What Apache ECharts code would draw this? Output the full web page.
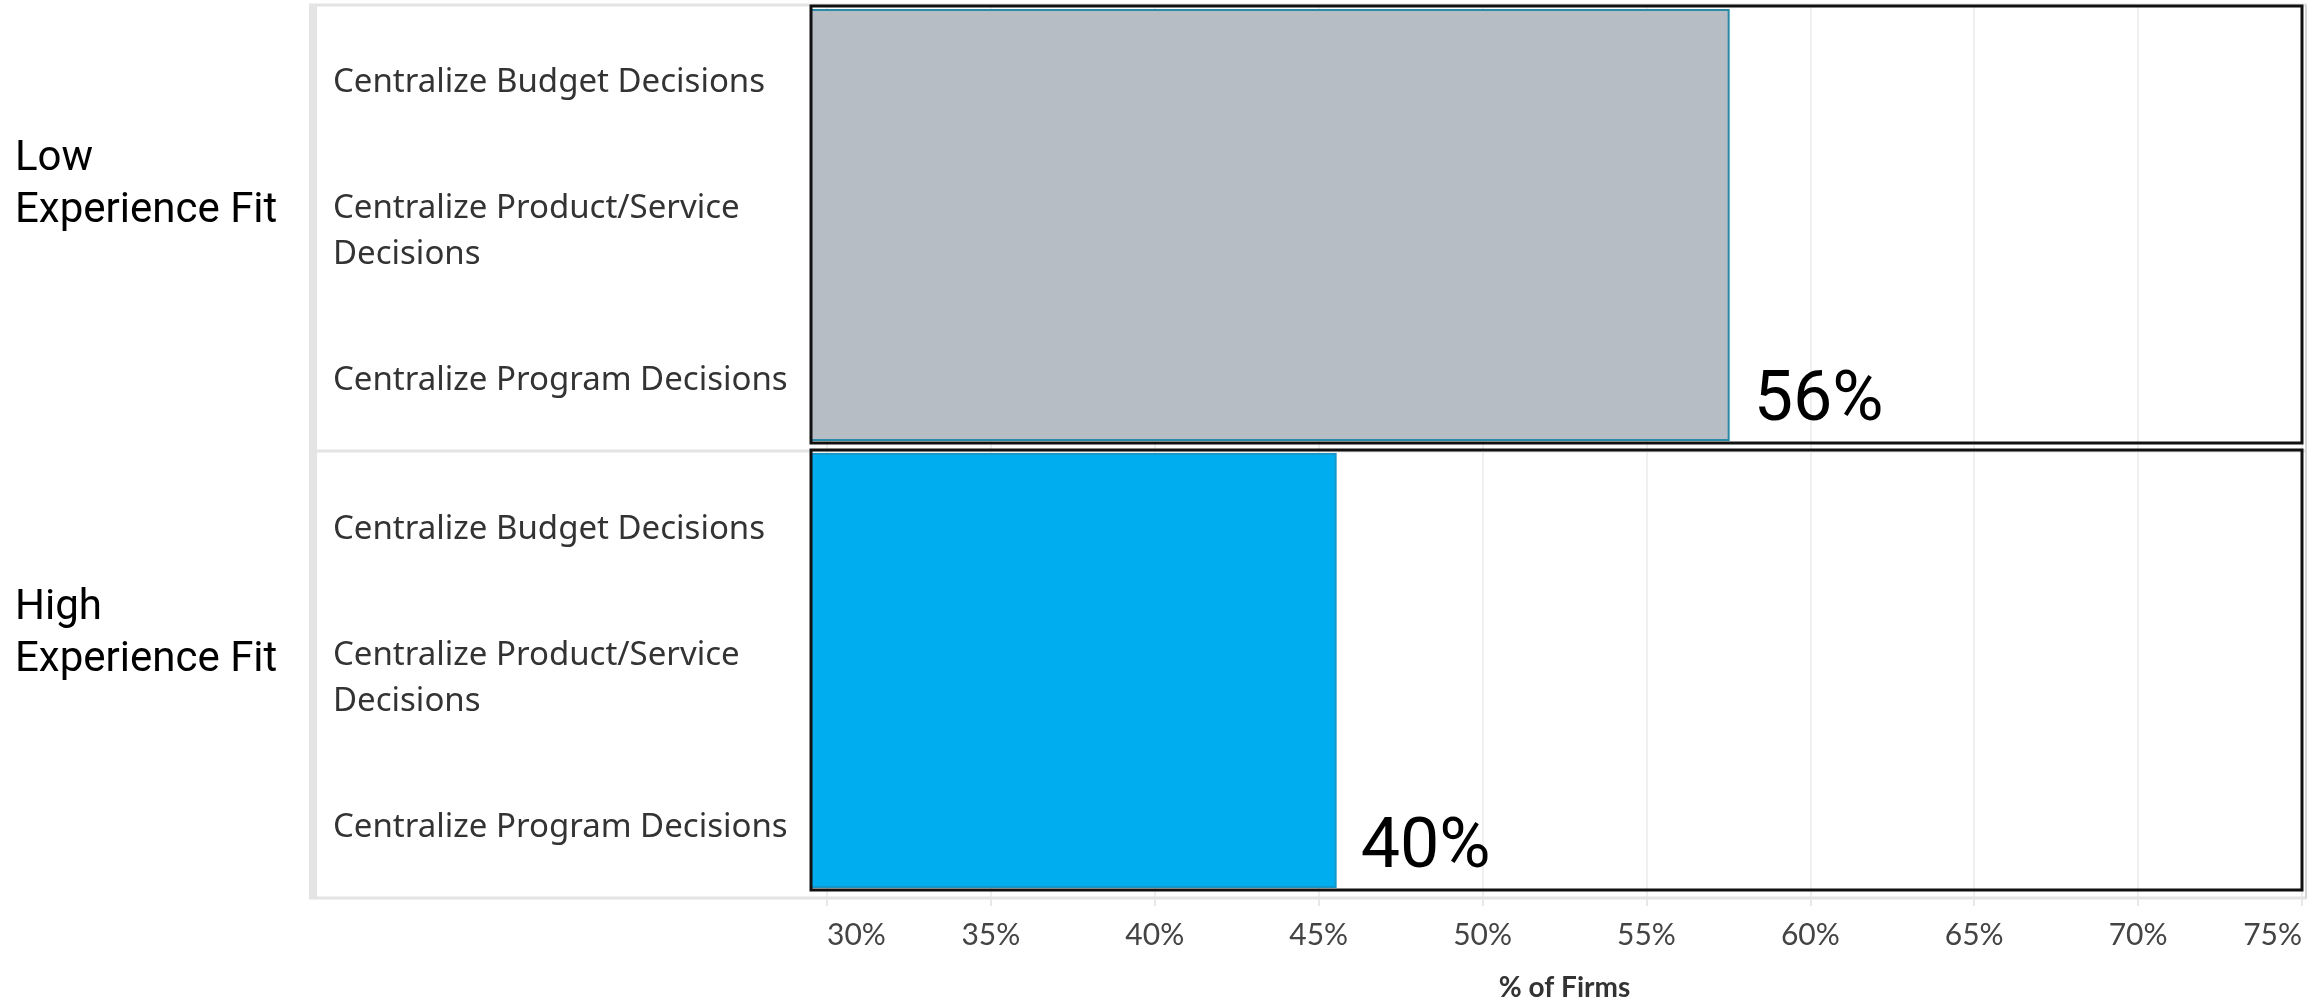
<!DOCTYPE html>
<html>
<head>
<meta charset="utf-8">
<script src="https://cdn.jsdelivr.net/npm/echarts@6/dist/echarts.min.js"></script>
<style>
  html, body { margin: 0; padding: 0; background: #ffffff; }
  #chart { width: 2323px; height: 1003px; }
</style>
</head>
<body>
<div id="chart"></div>
<script>
// Panels (experience fit groups), the decision rows inside each panel, and the share of firms
const panels = ['Low\nExperience Fit', 'High\nExperience Fit'];
const decisionTypes = [
  'Centralize Budget Decisions',
  'Centralize Product/Service\nDecisions',
  'Centralize Program Decisions'
];
const firmShare = [56, 40];
const percentTicks = [30, 35, 40, 45, 50, 55, 60, 65, 70, 75];
// value range of the scale the bars are drawn on
const barRange = [18.6, 79.3];

// layout
const W = 2323, H = 1003;
const PANE_L = 811, PANE_R = 2302;
const TICK_L = 827;
const HEADER_X = 309;
const ROW_LABEL_X = 333;
const TITLE_X = 15;
const AXIS_Y = 898;
const boxes = [{ top: 6, bottom: 443 }, { top: 450, bottom: 890 }];
const rowBands = [{ top: 8, height: 447 }, { top: 455, height: 447 }];
const titleBands = [{ top: 85, height: 200 }, { top: 534, height: 200 }];

// styles
const barFill = ['#b7bdc5', '#00aeef'];
const barEdge = ['#2a8aa8', '#1797c8'];
const headerGrey = '#e4e4e4';

const grids = [];
const xAxes = [];
const yAxes = [];
const series = [];

function addGrid(g) {
  grids.push(Object.assign({ outerBoundsMode: 'none', containLabel: false }, g));
  return grids.length - 1;
}
const hiddenX = gi => ({ gridIndex: gi, type: 'value', show: false });

panels.forEach((panel, i) => {
  const b = boxes[i];
  // bar pane
  const gBar = addGrid({
    left: PANE_L, width: PANE_R - PANE_L,
    top: b.top + 3, height: b.bottom - b.top - 5
  });
  xAxes.push({ gridIndex: gBar, type: 'value', min: barRange[0], max: barRange[1], show: false });
  yAxes.push({ gridIndex: gBar, type: 'category', data: [panel], show: false });
  series.push({
    type: 'bar',
    xAxisIndex: xAxes.length - 1,
    yAxisIndex: yAxes.length - 1,
    data: [firmShare[i]],
    barWidth: '100%',
    silent: true,
    itemStyle: { color: barFill[i], borderColor: barEdge[i], borderWidth: 2 },
    label: {
      show: true,
      position: ['100%', '100%'],
      align: 'left',
      verticalAlign: 'bottom',
      offset: [24, -4],
      formatter: p => p.value + '%',
      fontFamily: 'Roboto', fontSize: 70, color: '#000000'
    }
  });

  // decision row headers
  const gRows = addGrid({ left: PANE_L, width: PANE_R - PANE_L, top: rowBands[i].top, height: rowBands[i].height });
  xAxes.push(hiddenX(gRows));
  yAxes.push({
    gridIndex: gRows, type: 'category', position: 'left', inverse: true, data: decisionTypes,
    axisLine: { show: false }, axisTick: { show: false }, splitLine: { show: false },
    axisLabel: {
      interval: 0, align: 'left', margin: PANE_L - ROW_LABEL_X,
      fontFamily: 'Noto Sans', fontSize: 33, lineHeight: 46, color: '#333333'
    }
  });

  // panel title
  const gTitle = addGrid({ left: PANE_L, width: PANE_R - PANE_L, top: titleBands[i].top, height: titleBands[i].height });
  xAxes.push(hiddenX(gTitle));
  yAxes.push({
    gridIndex: gTitle, type: 'category', position: 'left', data: [panel],
    axisLine: { show: false }, axisTick: { show: false }, splitLine: { show: false },
    axisLabel: {
      interval: 0, align: 'left', margin: PANE_L - TITLE_X,
      fontFamily: 'Roboto', fontSize: 42, lineHeight: 52, color: '#000000'
    }
  });
});

// percent axis with gridlines running across both panels
const gAxis = addGrid({ left: TICK_L, right: W - PANE_R, top: boxes[0].top, bottom: H - AXIS_Y });
xAxes.push({
  gridIndex: gAxis, type: 'value',
  min: percentTicks[0], max: percentTicks[percentTicks.length - 1],
  interval: percentTicks[1] - percentTicks[0],
  axisLine: { show: false },
  axisTick: { show: true, length: 8, lineStyle: { color: '#e8e8e8', width: 2 } },
  splitLine: { show: true, lineStyle: { color: '#efefef', width: 2 } },
  axisLabel: {
    margin: 22, formatter: v => v + '%',
    alignMinLabel: 'left', alignMaxLabel: 'right',
    fontFamily: 'Lato', fontSize: 30, color: '#444444'
  },
  name: '% of Firms', nameLocation: 'middle', nameGap: 76,
  nameTextStyle: { fontFamily: 'Lato', fontSize: 28, fontWeight: 'bold', color: '#333333' }
});
yAxes.push({ gridIndex: gAxis, type: 'value', show: false });

// header strip, pane rules and panel frames
const graphic = [
  { type: 'rect', z: 1, shape: { x: HEADER_X, y: 4, width: 8, height: AXIS_Y - 4 }, style: { fill: headerGrey } },
  { type: 'line', z: 1, shape: { x1: HEADER_X, y1: 5, x2: PANE_R + 5, y2: 5 }, style: { stroke: headerGrey, lineWidth: 3 } },
  { type: 'line', z: 1, shape: { x1: HEADER_X, y1: 451, x2: PANE_R + 5, y2: 451 }, style: { stroke: headerGrey, lineWidth: 3 } },
  { type: 'line', z: 1, shape: { x1: HEADER_X, y1: AXIS_Y, x2: PANE_R + 5, y2: AXIS_Y }, style: { stroke: headerGrey, lineWidth: 3 } },
  { type: 'line', z: 1, shape: { x1: PANE_R + 4, y1: 5, x2: PANE_R + 4, y2: AXIS_Y }, style: { stroke: '#d6d6d6', lineWidth: 2 } }
];
boxes.forEach(b => {
  graphic.push({
    type: 'rect', z: 100,
    shape: { x: PANE_L, y: b.top, width: PANE_R - PANE_L, height: b.bottom - b.top },
    style: { fill: null, stroke: '#111111', lineWidth: 3 }
  });
});

const chart = echarts.init(document.getElementById('chart'), null, { renderer: 'canvas' });
chart.setOption({
  animation: false,
  backgroundColor: '#ffffff',
  grid: grids,
  xAxis: xAxes,
  yAxis: yAxes,
  series: series,
  graphic: graphic
});
</script>
</body>
</html>
